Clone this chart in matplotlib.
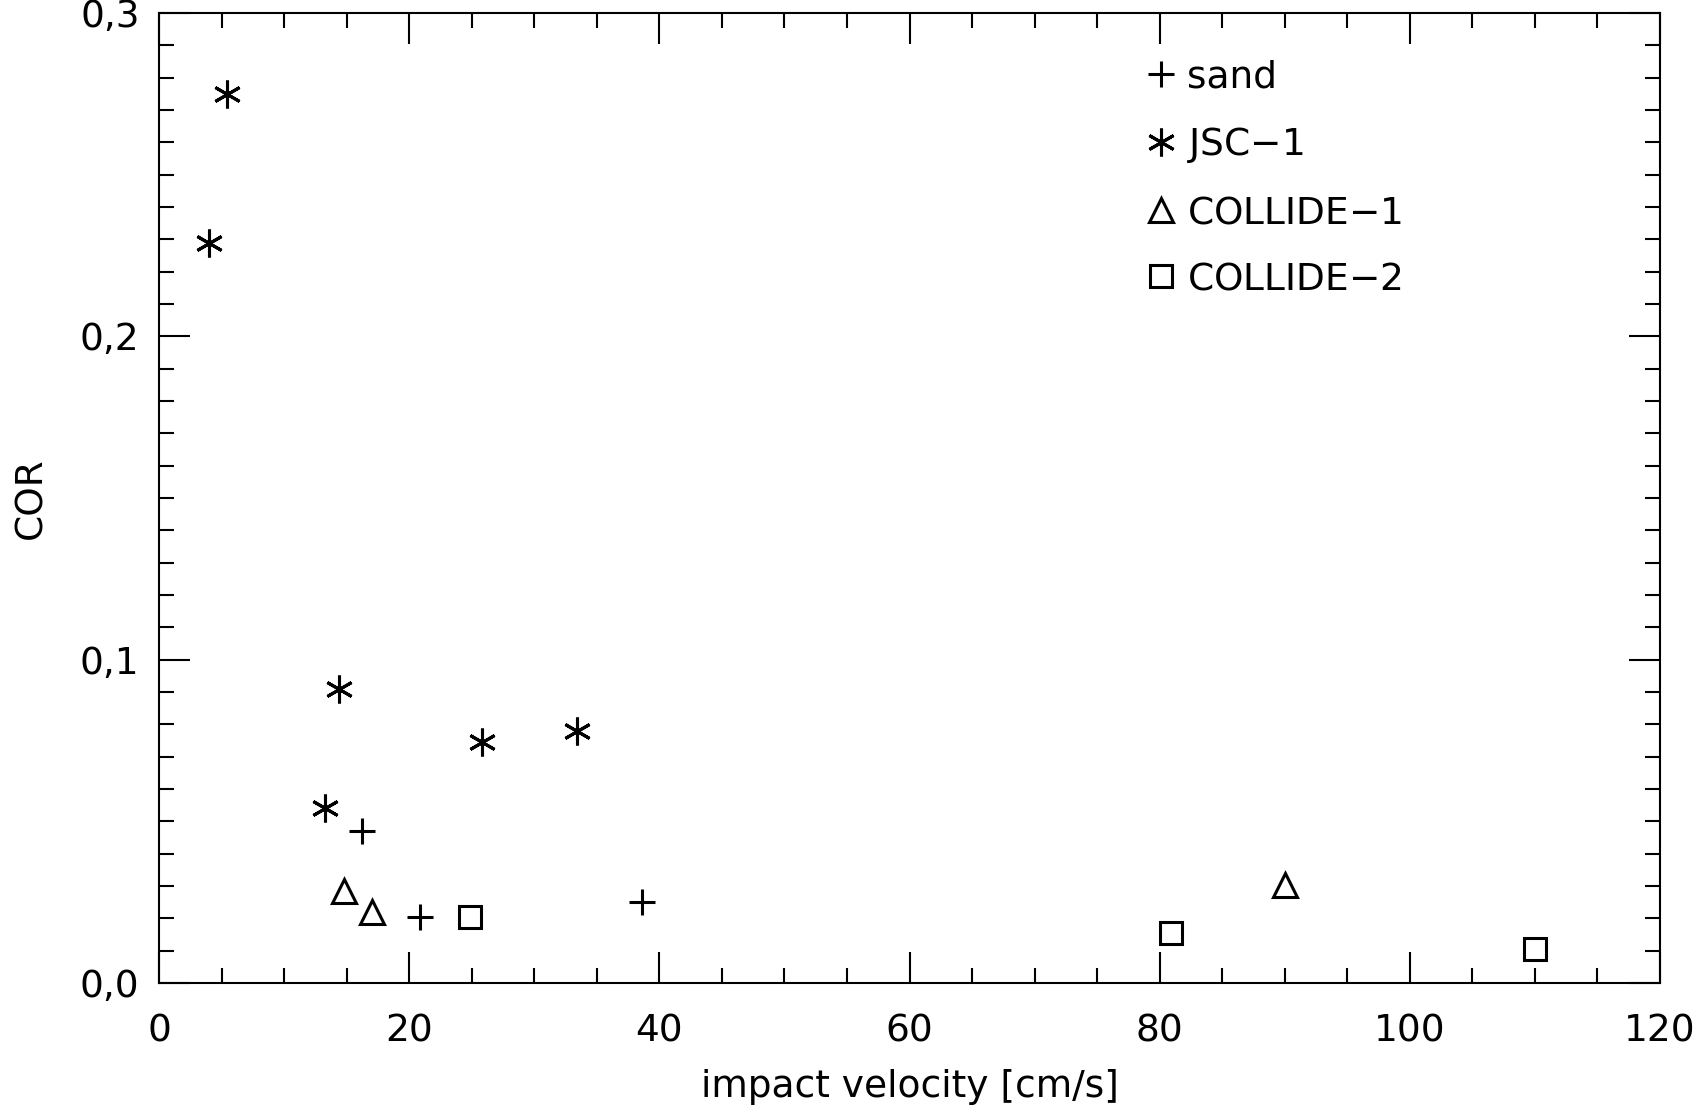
import numpy as np
import matplotlib
matplotlib.use("Agg")
import matplotlib.pyplot as plt
from matplotlib.ticker import MultipleLocator, FuncFormatter

# data
sand_v = [16.2, 20.9, 38.6]
sand_cor = [0.047, 0.0205, 0.025]

jsc_v = [5.4, 4.0, 14.4, 25.8, 33.4, 13.3]
jsc_cor = [0.275, 0.229, 0.091, 0.0745, 0.078, 0.054]

c1_v = [14.8, 17.0, 90.0]
c1_cor = [0.0285, 0.022, 0.0303]

c2_v = [24.9, 80.9, 110.0]
c2_cor = [0.0205, 0.0155, 0.0105]

plt.rcParams['font.family'] = 'DejaVu Sans'
fig = plt.figure(figsize=(16.98, 11.07), dpi=100)
ax = fig.add_axes([159/1698, 1-983/1107, (1660-159)/1698, (983-13)/1107])

lw = 2.2
ax.plot(sand_v, sand_cor, ls='none', marker='+', ms=19, mew=lw, color='k', label='sand')
ax.plot(jsc_v, jsc_cor, ls='none', marker=(6, 2, 0), ms=20, mew=lw, color='k', label='JSC$-$1')
ax.plot(c1_v, c1_cor, ls='none', marker='^', ms=17, mew=lw, mfc='none', color='k', label='COLLIDE$-$1')
ax.plot(c2_v, c2_cor, ls='none', marker='s', ms=16, mew=lw, mfc='none', color='k', label='COLLIDE$-$2')

ax.set_xlim(0, 120)
ax.set_ylim(0, 0.3)
ax.xaxis.set_major_locator(MultipleLocator(20))
ax.xaxis.set_minor_locator(MultipleLocator(5))
ax.yaxis.set_major_locator(MultipleLocator(0.1))
ax.yaxis.set_minor_locator(MultipleLocator(0.01))
ax.yaxis.set_major_formatter(FuncFormatter(lambda v, p: ('%.1f' % v).replace('.', ',')))

ax.tick_params(which='both', direction='in', top=True, right=True, width=1.5, labelsize=27)
ax.tick_params(which='major', length=22)
ax.tick_params(which='minor', length=11)
ax.tick_params(axis='x', pad=22)
ax.tick_params(axis='y', pad=14)
for s in ax.spines.values():
    s.set_linewidth(1.5)

ax.set_xlabel('impact velocity [cm/s]', fontsize=27, labelpad=14)
ax.set_ylabel('COR', fontsize=27, labelpad=22)

ax.legend(loc='upper left', bbox_to_anchor=(0.65, 0.968), frameon=False, fontsize=27,
          handlelength=0.6, handletextpad=0.4, labelspacing=0.8, borderaxespad=0)

fig.savefig('out.png', dpi=100)
